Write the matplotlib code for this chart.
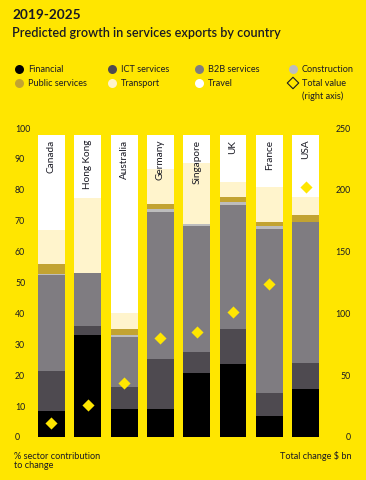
import matplotlib.pyplot as plt
import numpy as np

plt.rcParams['font.family'] = ['Lato', 'DejaVu Sans']

YELLOW = "#FFE600"
INK = "#1A1A24"

countries = ["Canada", "Hong Kong", "Australia", "Germany", "Singapore", "UK", "France", "USA"]
sectors = ["Financial", "ICT services", "B2B services", "Construction",
           "Public services", "Transport", "Travel"]
colors = ["#000000", "#4E4A50", "#7F7C81", "#BDBDBD", "#C2A332", "#FFF4CC", "#FFFFFF"]

# % sector contribution to change
financial = [8.4, 33.0, 9.0, 9.1, 20.8, 23.7, 6.8, 15.6]
ict = [13.1, 2.8, 7.1, 16.1, 6.8, 11.1, 7.5, 8.5]
b2b = [31.0, 17.4, 16.2, 47.5, 40.7, 40.2, 52.9, 45.6]
construction = [0.3, 0.0, 0.6, 1.1, 0.5, 1.2, 1.1, 0.0]
public = [3.2, 0.0, 2.2, 1.6, 0.0, 1.6, 1.3, 2.1]
transport = [11.0, 24.3, 5.1, 11.2, 20.0, 4.6, 11.2, 6.0]
travel = [30.7, 20.2, 57.5, 11.1, 8.9, 15.3, 16.9, 19.9]

# total change, $ bn (right axis)
total_value = [11.1, 25.9, 43.4, 80.3, 84.7, 100.9, 124.0, 202.5]

series = [financial, ict, b2b, construction, public, transport, travel]

fig = plt.figure(figsize=(3.66, 4.8), dpi=100, facecolor=YELLOW)
W, H = 366, 480

ax = fig.add_axes([29.7 / W, 43 / H, 297.7 / W, 309 / H])
ax.set_facecolor("none")
x = np.arange(len(countries))
bottom = np.zeros(len(countries))
for vals, col in zip(series, colors):
    ax.bar(x, vals, bottom=bottom, width=0.74, color=col, linewidth=0)
    bottom += np.array(vals)

for i, name in enumerate(countries):
    ax.text(x[i], bottom[i] - 1.5, name, rotation=90, ha="center", va="top",
            fontsize=7.2, color=INK)

ax.set_xlim(-0.6, 7.6)
ax.set_ylim(0, 100)
ax.set_yticks(range(0, 101, 10))
ax.set_xticks([])
ax.tick_params(axis="y", length=0, pad=10.6, labelsize=6.3, labelcolor=INK)
for lab in ax.get_yticklabels():
    lab.set_horizontalalignment("left")
for s in ax.spines.values():
    s.set_visible(False)

ax2 = ax.twinx()
ax2.scatter(x, total_value, marker="D", s=38, color=YELLOW, linewidths=0, zorder=5)
ax2.set_ylim(0, 250)
ax2.set_yticks(range(0, 251, 50))
ax2.tick_params(axis="y", length=0, pad=17, labelsize=6.3, labelcolor=INK)
for lab in ax2.get_yticklabels():
    lab.set_horizontalalignment("right")
for s in ax2.spines.values():
    s.set_visible(False)

# titles
fig.text(12 / W, 1 - 15 / H, "2019-2025", fontsize=9.8, fontweight="bold",
         color=INK, va="center")
fig.text(12 / W, 1 - 33 / H, "Predicted growth in services exports by country",
         fontsize=9.1, fontweight="semibold", color=INK, va="center")

# legend, drawn on an overlay in pixel units
lg = fig.add_axes([0, 0, 1, 1])
lg.set_xlim(0, W)
lg.set_ylim(H, 0)
lg.axis("off")
col_x = [19, 112, 199, 293]
row_y = [69, 83]
for k, (name, col) in enumerate(zip(sectors, colors)):
    cx, cy = col_x[k % 4], row_y[k // 4]
    lg.scatter(cx, cy, s=42, color=col, linewidths=0)
    lg.text(cx + 9, cy, name, fontsize=6.6, color=INK, va="center")
lg.scatter(col_x[3], row_y[1], s=34, marker="D", facecolor="none",
           edgecolor=INK, linewidths=0.8)
lg.text(col_x[3] + 9, row_y[1], "Total value", fontsize=6.6, color=INK, va="center")
lg.text(col_x[3] + 9, row_y[1] + 13, "(right axis)", fontsize=6.6, color=INK, va="center")

lg.text(14, 452, "% sector contribution\nto change", fontsize=6.6, color=INK,
        va="top", linespacing=1.05)
lg.text(352, 456, "Total change $ bn", fontsize=6.6, color=INK, va="center", ha="right")

fig.savefig("out.png", dpi=100, facecolor=YELLOW)
